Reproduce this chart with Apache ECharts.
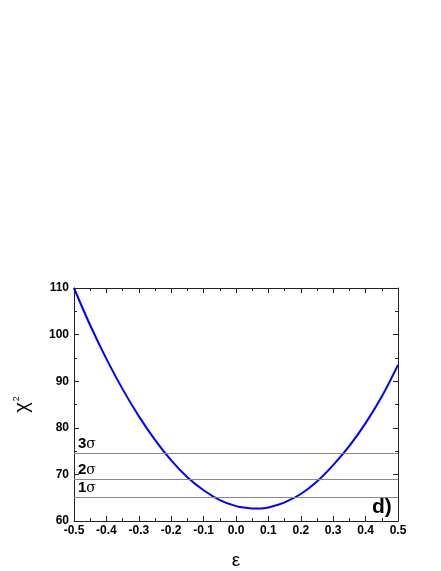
<!DOCTYPE html>
<html>
<head>
<meta charset="utf-8">
<script src="https://cdn.jsdelivr.net/npm/echarts@6/dist/echarts.min.js"></script>
<style>
  html, body { margin: 0; padding: 0; background: #fff; }
  #chart { width: 441px; height: 571px; }
</style>
</head>
<body>
<div id="chart"></div>
<script>
// values
const epsilon = [-0.5, -0.45, -0.4, -0.35, -0.3, -0.25, -0.2, -0.15, -0.1, -0.05, 0,
                 0.025, 0.05, 0.075, 0.1, 0.125, 0.15, 0.2, 0.25, 0.3, 0.35, 0.4, 0.45, 0.5];
const chi2 = [110.0, 102.0, 94.8, 88.3, 82.5, 77.4, 73.0, 69.4, 66.6, 64.5, 63.2,
              62.9, 62.7, 62.7, 62.9, 63.4, 64.0, 65.8, 68.5, 72.0, 76.1, 81.0, 86.7, 93.5];
const sigmaLevels = [65.0, 68.9, 74.5];
const sigmaNames = ['1', '2', '3'];

const font = 'Liberation Sans, Arial, sans-serif';
const frame = '#222';

const curve = epsilon.map((e, i) => [e, chi2[i]]);

const labelStyle = {
  color: '#000', fontFamily: font, fontWeight: 'bold', fontSize: 12
};

const tickSide = {
  axisLine: { show: true, onZero: false, lineStyle: { color: frame, width: 1 } },
  axisTick: { show: true, inside: true, length: 5, lineStyle: { color: frame } },
  minorTick: { show: true, splitNumber: 2, length: 3, lineStyle: { color: frame } },
  splitLine: { show: false }
};

const chart = echarts.init(document.getElementById('chart'));
chart.setOption({
  animation: false,
  backgroundColor: '#fff',
  grid: { left: 74, right: 43, top: 288, bottom: 49 },
  xAxis: [
    Object.assign({
      type: 'value', min: -0.5, max: 0.5, interval: 0.1,
      position: 'bottom',
      name: 'ε', nameLocation: 'middle', nameGap: 30,
      nameTextStyle: { fontFamily: font, fontSize: 19, color: '#000' },
      axisLabel: Object.assign({ margin: 4, formatter: v => v.toFixed(1) }, labelStyle)
    }, tickSide),
    Object.assign({
      type: 'value', min: -0.5, max: 0.5, interval: 0.1,
      position: 'top', axisLabel: { show: false }
    }, tickSide)
  ],
  yAxis: [
    Object.assign({
      type: 'value', min: 60, max: 110, interval: 10,
      position: 'left',
      name: '{c|χ}{s|2}', nameLocation: 'middle', nameRotate: 90, nameGap: 42,
      nameTextStyle: {
        rich: {
          c: { fontFamily: font, fontSize: 20, color: '#000' },
          s: { fontFamily: font, fontSize: 9, color: '#000', verticalAlign: 'top', padding: [0, 0, 8, 1] }
        }
      },
      axisLabel: Object.assign({ margin: 5 }, labelStyle)
    }, tickSide),
    Object.assign({
      type: 'value', min: 60, max: 110, interval: 10,
      position: 'right', axisLabel: { show: false }
    }, tickSide)
  ],
  series: [{
    type: 'line',
    data: curve,
    smooth: 0.4,
    showSymbol: false,
    lineStyle: { color: '#0000ff', width: 2 },
    z: 3,
    markLine: {
      silent: true,
      symbol: 'none',
      lineStyle: { color: '#888', width: 1, type: 'solid' },
      label: {
        position: 'insideStartTop',
        distance: [4, 2],
        formatter: p => '{n|' + p.name + '}{g|σ}',
        rich: {
          n: { fontFamily: font, fontWeight: 'bold', fontSize: 15, color: '#000' },
          g: { fontFamily: 'DejaVu Serif, serif', fontSize: 14, color: '#000' }
        }
      },
      data: sigmaLevels.map((v, i) => ({ name: sigmaNames[i], yAxis: v }))
    }
  }],
  graphic: [{
    type: 'text',
    left: 372, top: 497,
    style: { text: 'd)', fontFamily: font, fontWeight: 'bold', fontSize: 21, fill: '#000' }
  }]
});
</script>
</body>
</html>
